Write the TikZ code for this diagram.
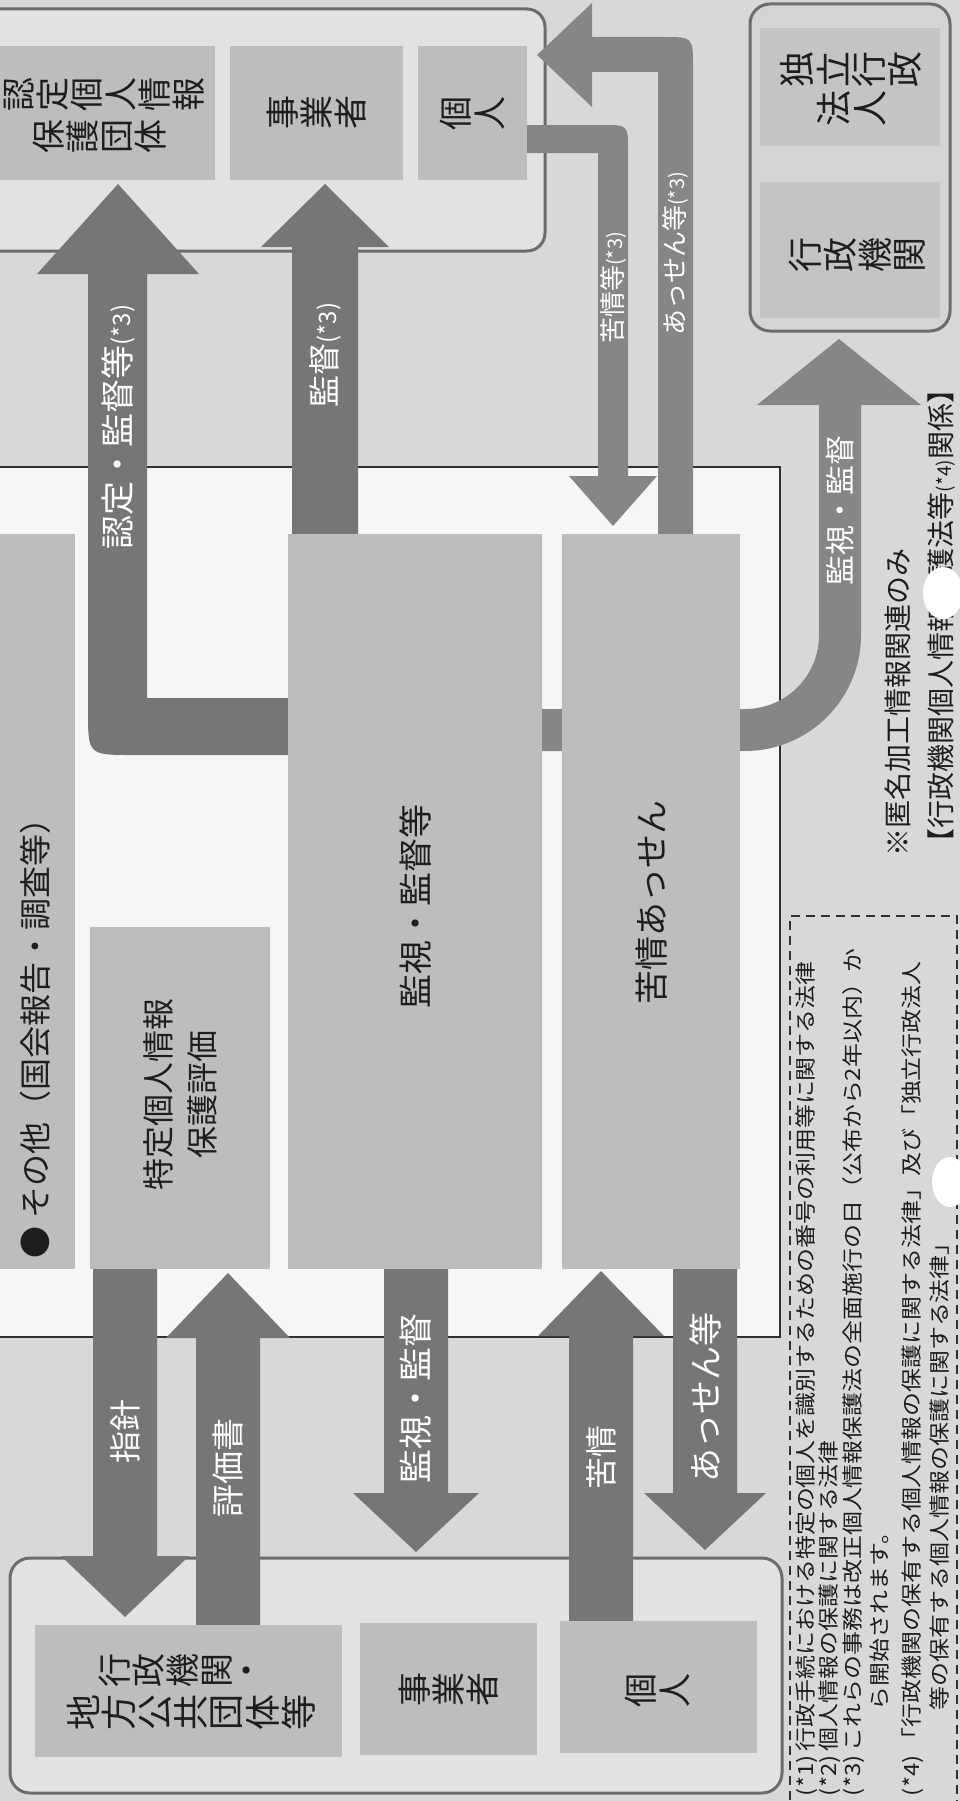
\documentclass[tikz,border=0pt]{standalone}
\usepackage{fontspec}
\setmainfont{Noto Sans CJK JP}
\newfontfamily\fnfont[FakeStretch=1.14]{Noto Sans CJK JP}
\definecolor{bg}{HTML}{D8D8D8}
\definecolor{ppc}{HTML}{F6F6F6}
\definecolor{grp}{HTML}{E2E2E2}
\definecolor{gbx}{HTML}{BDBDBD}
\definecolor{arw}{HTML}{767676}
\definecolor{arwl}{HTML}{868686}
\definecolor{edge}{HTML}{6C6C6C}
\definecolor{ink}{HTML}{1E1E1E}
\definecolor{rbx}{HTML}{D4D4D4}
\definecolor{rsub}{HTML}{C4C4C4}
\definecolor{line}{HTML}{303030}
\newcommand{\jf}[1]{\fontsize{#1}{#1}\selectfont}
\newcommand{\varr}[6]{\fill[arw] ({#1-#2},#3) -- ({#1-#2},#4) -- ({#1-#5},#4) -- (#1,#6) -- ({#1+#5},#4) -- ({#1+#2},#4) -- ({#1+#2},#3) -- cycle;}
\newcommand{\bx}[5]{\node[gbox,minimum width={(#4)-(#2)},minimum height={(#5)-(#3)}] (#1) at ({((#2)+(#4))/2},{((#3)+(#5))/2}) {};}
% row of sideways glyphs: name, x of first glyph, y, size, pitch, glyphs
\newcommand{\trow}[6]{\foreach \c [count=\i from 0] in {#6} {\node[rotate=90,font=\jf{#4},text=ink] (#1-\i) at ({#2+\i*#5},#3) {\c};}}
\begin{document}
\begin{tikzpicture}[x=1pt,y=-1pt,
  every node/.style={inner sep=0pt,outer sep=0pt,text=ink},
  gbox/.style={fill=gbx,draw=none},
  vlab/.style={rotate=90,text=white},
  blab/.style={rotate=90,text=ink},
  fn/.style={rotate=90,text=ink,anchor=west,font=\fnfont\jf{21}}]
\useasboundingbox (0,0) rectangle (960,1801);
\fill[bg] (0,0) rectangle (960,1801);
% group boxes
\draw[fill=grp,draw=edge,line width=3pt,rounded corners=18pt] (-30,9) rectangle (545,251);
\draw[fill=rbx,draw=edge,line width=3pt,rounded corners=20pt] (750,4) rectangle (950,331);
\fill[rsub] (760,28) rectangle (940,146);
\fill[rsub] (760,182) rectangle (940,318);
\draw[fill=ppc,draw=line,line width=2.5pt] (-10,467) rectangle (780,1337);
\draw[fill=grp,draw=edge,line width=3pt,rounded corners=20pt] (10,1558) rectangle (782,1793);
\draw[draw=line,line width=1.8pt,dash pattern=on 9pt off 6pt] (790,1815) -- (790,916) -- (957,916) -- (957,1815);
% arrows
\fill[arw] (290,755) -- (133,755) .. controls (88,755) .. (88,710) -- (88,274) -- (37,274) -- (118,184) -- (199,274) -- (147,274) -- (147,698) -- (290,698) -- cycle;
\varr{325}{33}{536}{247}{64}{184}
\fill[arwl] (520,125) -- (603,125) .. controls (628,125) .. (628,150) -- (628,476) -- (657,476) -- (613,526) -- (569,476) -- (598,476) -- (598,153) -- (520,153) -- cycle;
\fill[arwl] (658,536) -- (693,536) -- (693,67) .. controls (693,37) .. (663,37) -- (592,37) -- (592,3) -- (537,55) -- (592,107) -- (592,72) -- (658,72) -- cycle;
\fill[arwl] (540,709) -- (745,709) .. controls (786,709) and (819,676) .. (819,635) -- (819,405) -- (757,405) -- (839,339) -- (921,405) -- (861,405) -- (861,635) .. controls (861,699) and (809,751) .. (745,751) -- (540,751) -- cycle;
\varr{125}{32}{1267}{1556}{64}{1617}
\varr{228}{32}{1627}{1338}{62}{1273}
\varr{416}{32}{1267}{1493}{63}{1552}
\varr{601}{32}{1623}{1336}{63}{1271}
\varr{705}{32}{1267}{1493}{61}{1550}
% boxes
\bx{nintei}{-10}{46}{215}{180}
\bx{jigyo1}{230}{46}{403}{180}
\bx{kojin1}{418}{46}{527}{180}
\bx{strip}{-10}{534}{75}{1269}
\bx{tokutei}{90}{927}{270}{1269}
\bx{kanshi}{288}{534}{542}{1269}
\bx{kujo}{562}{534}{740}{1269}
\bx{gyosei}{35}{1625}{342}{1757}
\bx{jigyo2}{360}{1623}{537}{1755}
\bx{kojin2}{560}{1621}{757}{1753}
% sideways-glyph rows
\trow{t1}{19}{94}{34}{34}{認,定,個,人,情,報}
\trow{t2}{49}{136}{34}{34}{保,護,団,体}
\trow{t3}{283}{112}{34}{34}{事,業,者}
\trow{t4}{456}{113}{34}{34}{個,人}
\trow{t5}{797}{69}{36}{36}{独,立,行,政}
\trow{t6}{834}{108}{36}{36}{法,人}
\trow{t7}{805}{255}{35}{35}{行,政,機,関}
\trow{b1}{115}{1670}{34}{34}{行,政,機,関,・}
\trow{b2}{83}{1712}{36}{36}{地,方,公,共,団,体,等}
\trow{b3}{415}{1689}{34}{34}{事,業,者}
\trow{b4}{641}{1690}{34}{34}{個,人}
% box labels
\node[blab,font=\jf{34}] (l1) at (416,906) {監視・監督等};
\node[blab,font=\jf{34}] (l2) at (652,902) {苦情あっせん};
\node[blab,font=\jf{32}] (l3) at (158,1094) {特定個人情報};
\node[blab,font=\jf{32}] (l4) at (202,1094) {保護評価};
\node[blab,font=\jf{32},anchor=west] (l5) at (35,1258) {● その他（国会報告・調査等）};
% arrow labels
\node[vlab,font=\jf{34}] (a1) at (118,427) {認定・監督等{\jf{24}(*3)}};
\node[vlab,font=\jf{32}] (a2) at (325,355) {監督{\jf{24}(*3)}};
\node[vlab,font=\jf{26}] (a3) at (613,288) {苦情等{\jf{20}(*3)}};
\node[vlab,font=\jf{26}] (a4) at (675,254) {あっせん等{\jf{20}(*3)}};
\node[vlab,font=\jf{30}] (a5) at (840,510) {監視・監督};
\node[vlab,font=\jf{32}] (a6) at (125,1431) {指針};
\node[vlab,font=\jf{33}] (a7) at (228,1468) {評価書};
\node[vlab,font=\jf{34}] (a8) at (416,1398) {監視・監督};
\node[vlab,font=\jf{32}] (a9) at (601,1457) {苦情};
\node[vlab,font=\jf{34}] (a10) at (705,1397) {あっせん等};
% notes
\node[blab,font=\jf{28},anchor=west] (n1) at (898,856) {※匿名加工情報関連のみ};
\node[blab,font=\jf{28},anchor=west] (n2) at (942,856) {【行政機関個人情報保護法等{\jf{19}(*4)}関係】};
\node[fn] (f1) at (807,1796) {(*1)\hspace{4pt}行政手続における特定の個人を識別するための番号の利用等に関する法律};
\node[fn] (f2) at (830,1796) {(*2)\hspace{4pt}個人情報の保護に関する法律};
\node[fn] (f3) at (854,1796) {(*3)\hspace{4pt}これらの事務は改正個人情報保護法の全面施行の日（公布から2年以内）か};
\node[fn] (f3b) at (880,1710) {ら開始されます。};
\node[fn] (f4) at (913,1796) {(*4)\hspace{4pt}「行政機関の保有する個人情報の保護に関する法律」及び「独立行政法人};
\node[fn] (f4b) at (940,1710) {等の保有する個人情報の保護に関する法律」};
% scan blemishes
\fill[white] (943,593) ellipse [x radius=20pt,y radius=26pt];
\fill[white] (950,1182) ellipse [x radius=18pt,y radius=25pt];
\end{tikzpicture}
\end{document}
